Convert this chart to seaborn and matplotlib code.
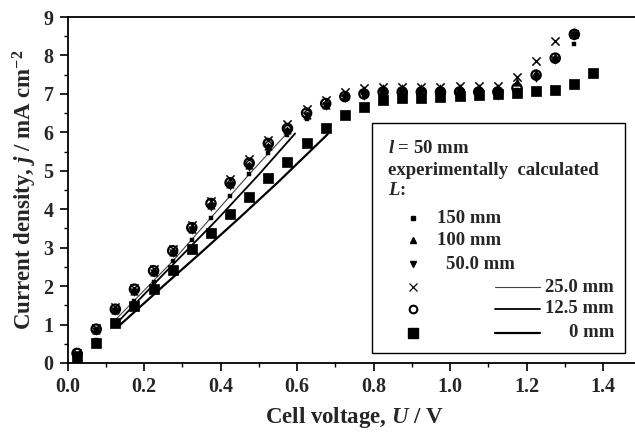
import matplotlib
matplotlib.use("Agg")
import matplotlib.pyplot as plt
from matplotlib.patches import Rectangle
from matplotlib.lines import Line2D
from matplotlib.ticker import MultipleLocator
import seaborn as sns

# ---------------- data ----------------
U = [0.025, 0.075, 0.125, 0.175, 0.225, 0.275, 0.325, 0.375, 0.425, 0.475,
     0.525, 0.575, 0.625, 0.675, 0.725, 0.775, 0.825, 0.875, 0.925, 0.975,
     1.025, 1.075, 1.125, 1.175, 1.225, 1.275, 1.325]
U_0 = U + [1.375]

j_150 = [0.15, 0.60, 1.10, 1.60, 2.10, 2.65, 3.20, 3.78, 4.34, 4.91,
         5.45, 5.93, 6.35, 6.68, 6.90, 7.00, 7.02, 7.02, 7.02, 7.02,
         7.02, 7.02, 7.02, 7.10, 7.50, 7.90, 8.30]
j_100 = [0.22, 0.85, 1.38, 1.88, 2.38, 2.88, 3.48, 4.10, 4.65, 5.15,
         5.65, 6.05, 6.45, 6.72, 6.95, 7.10, 7.15, 7.15, 7.15, 7.15,
         7.15, 7.15, 7.15, 7.30, 7.55, 7.95, 8.60]
j_50 = [0.20, 0.83, 1.35, 1.85, 2.35, 2.85, 3.45, 4.05, 4.60, 5.10,
        5.60, 6.00, 6.42, 6.68, 6.90, 6.95, 6.95, 6.95, 6.95, 6.95,
        6.95, 6.95, 6.95, 7.05, 7.42, 7.88, 8.50]
j_25 = [0.25, 0.90, 1.45, 1.95, 2.45, 2.97, 3.58, 4.22, 4.78, 5.30,
        5.80, 6.22, 6.62, 6.85, 7.05, 7.15, 7.18, 7.18, 7.18, 7.18,
        7.20, 7.20, 7.20, 7.45, 7.85, 8.38, 8.55]
j_12 = [0.25, 0.88, 1.40, 1.92, 2.40, 2.92, 3.52, 4.15, 4.69, 5.20,
        5.71, 6.10, 6.50, 6.75, 6.93, 7.00, 7.05, 7.05, 7.05, 7.05,
        7.05, 7.05, 7.05, 7.15, 7.49, 7.93, 8.55]
j_0 = [0.16, 0.52, 1.03, 1.48, 1.92, 2.42, 2.96, 3.39, 3.87, 4.31,
       4.80, 5.22, 5.71, 6.12, 6.45, 6.65, 6.85, 6.90, 6.90, 6.92,
       6.95, 6.97, 7.00, 7.02, 7.07, 7.10, 7.25, 7.54]

# calculated curves
calc_U_25 = [0.125, 0.275, 0.375, 0.475, 0.578]
calc_j_25 = [1.12, 2.65, 3.78, 4.91, 6.02]
calc_U_12 = [0.130, 0.250, 0.390, 0.500, 0.595]
calc_j_12 = [1.05, 2.30, 3.72, 4.90, 5.97]
calc_U_0 = [0.135, 0.250, 0.350, 0.450, 0.550, 0.680]
calc_j_0 = [0.97, 2.00, 2.88, 3.78, 4.70, 5.95]

# ---------------- style ----------------
sns.set_style("ticks")
plt.rcParams["font.family"] = ["Liberation Serif", "DejaVu Serif"]
plt.rcParams["font.weight"] = "bold"
plt.rcParams["mathtext.fontset"] = "custom"
plt.rcParams["mathtext.rm"] = "Liberation Serif:bold"
plt.rcParams["mathtext.it"] = "Liberation Serif:bold:italic"
plt.rcParams["mathtext.bf"] = "Liberation Serif:bold"

fig = plt.figure(figsize=(6.35, 4.34), dpi=100)
ax = fig.add_axes([0.1063, 0.1636, 0.9036, 0.7972])

# measured points
sns.scatterplot(x=U_0, y=j_0, marker="s", s=62, color="black", edgecolor="black",
                linewidth=0.5, ax=ax, zorder=3)
sns.scatterplot(x=U, y=j_12, marker="o", s=45, facecolor="none", edgecolor="black",
                linewidth=1.6, ax=ax, zorder=4)
sns.scatterplot(x=U, y=j_100, marker="^", s=28, color="black", edgecolor="black",
                linewidth=0.5, ax=ax, zorder=4)
sns.scatterplot(x=U, y=j_50, marker="v", s=28, color="black", edgecolor="black",
                linewidth=0.5, ax=ax, zorder=4)
sns.scatterplot(x=U, y=j_25, marker="x", s=35, color="black", linewidth=1.1,
                ax=ax, zorder=5)
sns.scatterplot(x=U, y=j_150, marker="s", s=12, color="black", edgecolor="black",
                linewidth=0.3, ax=ax, zorder=5)

# calculated lines
sns.lineplot(x=calc_U_25, y=calc_j_25, color="#444444", linewidth=0.8, ax=ax,
             zorder=2, sort=True)
sns.lineplot(x=calc_U_12, y=calc_j_12, color="black", linewidth=1.3, ax=ax,
             zorder=2, sort=True)
sns.lineplot(x=calc_U_0, y=calc_j_0, color="black", linewidth=1.6, ax=ax,
             zorder=2, sort=True)

# axes
ax.set_xlim(0, 1.5)
ax.set_ylim(0, 9)
ax.xaxis.set_major_locator(MultipleLocator(0.2))
ax.xaxis.set_minor_locator(MultipleLocator(0.1))
ax.yaxis.set_major_locator(MultipleLocator(1))
ax.yaxis.set_minor_locator(MultipleLocator(0.5))
ax.tick_params(which="major", direction="out", length=6, width=1.2,
               labelsize=14.5, pad=4, color="black")
ax.tick_params(which="minor", direction="out", length=3, width=1.0, color="black")
for lab in ax.get_xticklabels() + ax.get_yticklabels():
    lab.set_fontweight("bold")
ax.xaxis.set_major_formatter(matplotlib.ticker.FormatStrFormatter("%.1f"))
ax.yaxis.set_major_formatter(matplotlib.ticker.FormatStrFormatter("%d"))
for side in ["top", "left", "bottom"]:
    ax.spines[side].set_linewidth(1.3)
    ax.spines[side].set_color("black")
ax.spines["top"].set_visible(True)
ax.spines["right"].set_visible(False)

ax.set_xlabel("Cell voltage, $U$ / V", fontsize=16.5, fontweight="bold", labelpad=6)
ax.set_ylabel("Current density, $j$ / mA cm$^{-2}$", fontsize=16.5,
              fontweight="bold", labelpad=3)

# ---------------- legend (manual layout) ----------------
AX_L, AX_R, AX_T, AX_B = 67.5, 641.3, 17.0, 363.0


def fx(px):
    return (px - AX_L) / (AX_R - AX_L)


def fy(py):
    return (AX_B - py) / (AX_B - AX_T)


tr = ax.transAxes
ax.add_patch(Rectangle((fx(372.5), fy(353)), fx(625) - fx(372.5), fy(123) - fy(353),
                       transform=tr, facecolor="white", edgecolor="black",
                       linewidth=1.0, zorder=10))
fs = 13.5
ax.text(fx(388), fy(148), "$l$ = 50 mm", transform=tr, fontsize=fs,
        fontweight="bold", va="center", ha="left", zorder=11)
ax.text(fx(388), fy(170), "experimentally  calculated", transform=tr, fontsize=fs,
        fontweight="bold", va="center", ha="left", zorder=11)
ax.text(fx(388), fy(190), "$L$:", transform=tr, fontsize=fs,
        fontweight="bold", va="center", ha="left", zorder=11)

mx = fx(413)
rows_top = [("s", 3.5, 218, "150 mm", 437), ("^", 5, 240, "100 mm", 437),
            ("v", 5, 264, "50.0 mm", 446)]
for mk, ms, py, lab, tx in rows_top:
    ax.add_line(Line2D([mx], [fy(py)], marker=mk, markersize=ms,
                       color="black", linestyle="none", transform=tr, zorder=11))
    ax.text(fx(tx), fy(py), lab, transform=tr, fontsize=fs, fontweight="bold",
            va="center", ha="left", zorder=11)

rows_bot = [("x", dict(markersize=5.5, markeredgewidth=0.9, color="black"), 287,
             "25.0 mm", dict(color="#444444", linewidth=0.8)),
            ("o", dict(markersize=5.5, markeredgewidth=1.5, markerfacecolor="none",
                       markeredgecolor="black"), 309, "12.5 mm",
             dict(color="black", linewidth=1.3)),
            ("s", dict(markersize=7.5, color="black"), 333, "0 mm",
             dict(color="black", linewidth=1.6))]
for mk, mkw, py, lab, lkw in rows_bot:
    ax.add_line(Line2D([mx], [fy(py)], marker=mk, linestyle="none", transform=tr,
                       zorder=11, **mkw))
    ax.add_line(Line2D([fx(495), fx(540)], [fy(py), fy(py)], transform=tr,
                       zorder=11, **lkw))
    ax.text(fx(614), fy(py), lab, transform=tr, fontsize=fs, fontweight="bold",
            va="center", ha="right", zorder=11)

fig.savefig("out.png", dpi=100)
